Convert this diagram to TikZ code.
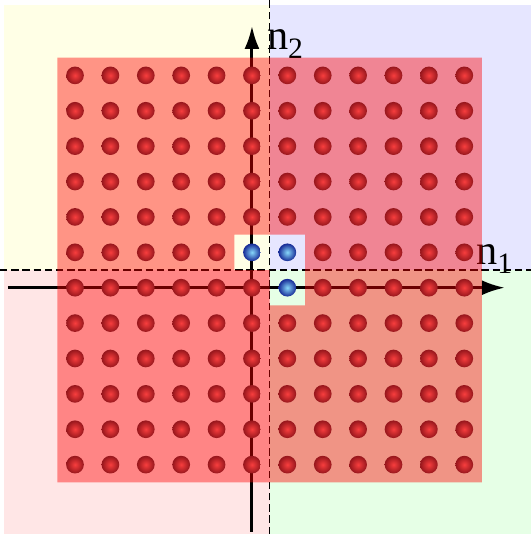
\documentclass[tikz,border=0pt]{standalone}
\usepackage{fontspec}
\setmainfont{Liberation Serif}
\usepackage{tikz}
\usetikzlibrary{arrows.meta}
\usepackage{xcolor}

\definecolor{quadA}{RGB}{255,255,230}
\definecolor{quadB}{RGB}{230,230,255}
\definecolor{quadC}{RGB}{255,230,230}
\definecolor{quadD}{RGB}{230,255,230}
\definecolor{atomIn}{RGB}{248,62,62}
\definecolor{atomOut}{RGB}{150,22,28}
\definecolor{holeIn}{RGB}{135,215,250}
\definecolor{holeOut}{RGB}{22,42,150}

\begin{document}
\begin{tikzpicture}[>={Latex[length=6.5mm,width=4.2mm]},
  axis/.style={->,line width=2.4pt},
  sep/.style={line width=0.9pt,dash pattern=on 6pt off 3pt},
  atom/.style={inner color=atomIn,outer color=atomOut},
  hole/.style={inner color=holeIn,outer color=holeOut},
  lbl/.style={inner sep=0pt,anchor=base west,font=\fontsize{34}{40}\selectfont}]
\useasboundingbox (-7.12,-6.96) rectangle (7.88,8.13);
\fill[quadA] (-7,0.5) rectangle (0.5,8);
\fill[quadB] (0.5,0.5) rectangle (7.88,8);
\fill[quadC] (-7,-6.96) rectangle (0.5,0.5);
\fill[quadD] (0.5,-6.96) rectangle (7.88,0.5);
\draw[sep] (-7.12,0.5) -- (7.88,0.5);
\draw[sep] (0.5,-6.96) -- (0.5,8.13);
\coordinate (xs) at (-6.9,0);
\coordinate (xe) at (7.15,0);
\coordinate (ys) at (0,-6.9);
\coordinate (ye) at (0,7.4);
\draw[axis] (xs) -- (xe);
\draw[axis] (ys) -- (ye);
\node[lbl] (n1) at (6.33,0.65) {n\textsubscript{1}};
\node[lbl] (n2) at (0.42,6.72) {n\textsubscript{2}};
\fill[red,fill opacity=0.42,even odd rule] (-5.5,-5.5) rectangle (6.5,6.5)
  (-0.5,0.5) -- (-0.5,1.5) -- (1.5,1.5) -- (1.5,-0.5) -- (0.5,-0.5) -- (0.5,0.5) -- cycle;
\foreach \i in {-5,...,6}{
  \foreach \j in {-5,...,6}{
    \pgfmathtruncatemacro{\isblue}{and(and(\i>=0,\i<=1),and(and(\j>=0,\j<=1),\i+\j>=1))}
    \ifnum\isblue=0
      \shade[atom] (\i,\j) circle (0.25);
    \fi
  }
}
\foreach \p in {(0,1),(1,1),(1,0)}
  \shade[hole] \p circle (0.25);
\end{tikzpicture}
\end{document}
